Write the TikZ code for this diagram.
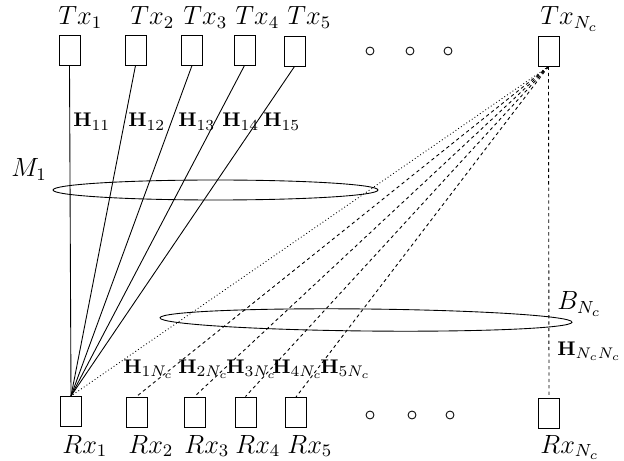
\documentclass[tikz,border=0pt]{standalone}
\usepackage{amsmath}
\begin{document}
\begin{tikzpicture}[x=0.455pt,y=-0.455pt,
  antenna/.style={draw,rectangle,inner sep=0pt,minimum width=9.6pt,minimum height=13.7pt},
  lbl/.style={inner sep=0pt,anchor=base west,font=\fontsize{12}{14}\selectfont},
  hlbl/.style={inner sep=0pt,anchor=base west,font=\fontsize{9.3}{11}\selectfont},
  dotc/.style={draw,circle,inner sep=0pt,minimum size=3.6pt},
  dsh/.style={dash pattern=on 1.5pt off 1.4pt},
  dtt/.style={dash pattern=on 0.4pt off 1.1pt}]
\useasboundingbox (0,0) rectangle (624,461);
% transmit antennas
\node[antenna] (t1) at (69.5,50) {};
\node[antenna] (t2) at (135.5,50) {};
\node[antenna] (t3) at (192,50) {};
\node[antenna] (t4) at (244.5,50) {};
\node[antenna] (t5) at (294.5,51) {};
\node[antenna] (tn) at (548.5,51) {};
% receive antennas
\node[antenna] (r1) at (71,411.5) {};
\node[antenna] (r2) at (136.5,412) {};
\node[antenna] (r3) at (194.5,412) {};
\node[antenna] (r4) at (245.5,412) {};
\node[antenna] (r5) at (296,412.5) {};
\node[antenna] (rn) at (549,413) {};
% dots
\node[dotc] (d1) at (370,51) {};
\node[dotc] (d2) at (410,51) {};
\node[dotc] (d3) at (448,51) {};
\node[dotc] (e1) at (370,415) {};
\node[dotc] (e2) at (412,415) {};
\node[dotc] (e3) at (450,415) {};
% labels
\node[lbl] (lt1) at (58,25) {$Tx_1$};
\node[lbl] (lt2) at (130,25) {$Tx_2$};
\node[lbl] (lt3) at (183,25) {$Tx_3$};
\node[lbl] (lt4) at (235,25) {$Tx_4$};
\node[lbl] (lt5) at (287,25) {$Tx_5$};
\node[lbl] (ltn) at (540,25) {$Tx_{N_c}$};
\node[lbl] (lr1) at (62,453) {$Rx_1$};
\node[lbl] (lr2) at (128,453) {$Rx_2$};
\node[lbl] (lr3) at (184,453) {$Rx_3$};
\node[lbl] (lr4) at (235,453) {$Rx_4$};
\node[lbl] (lr5) at (287,453) {$Rx_5$};
\node[lbl] (lrn) at (540,453) {$Rx_{N_c}$};
\node[lbl] (lm) at (11,177) {$M_1$};
\node[lbl] (lb) at (557,310) {$B_{N_c}$};
\node[hlbl] (h11) at (73,127) {$\mathbf{H}_{11}$};
\node[hlbl] (h12) at (128,127) {$\mathbf{H}_{12}$};
\node[hlbl] (h13) at (178,127) {$\mathbf{H}_{13}$};
\node[hlbl] (h14) at (222,127) {$\mathbf{H}_{14}$};
\node[hlbl] (h15) at (263,127) {$\mathbf{H}_{15}$};
\node[hlbl] (h1n) at (123,373) {$\mathbf{H}_{1N_c}$};
\node[hlbl] (h2n) at (178,373) {$\mathbf{H}_{2N_c}$};
\node[hlbl] (h3n) at (226,373) {$\mathbf{H}_{3N_c}$};
\node[hlbl] (h4n) at (272,373) {$\mathbf{H}_{4N_c}$};
\node[hlbl] (h5n) at (320,373) {$\mathbf{H}_{5N_c}$};
\node[hlbl] (hnn) at (557,355) {$\mathbf{H}_{N_cN_c}$};
% links to Rx1
\foreach \t in {t1,t2,t3,t4,t5}
  \draw (\t.south) -- (r1.north);
% links from Txn
\draw[dtt] (tn.south) -- (r1.north);
\foreach \r in {r2,r3,r4,r5,rn}
  \draw[dsh] (tn.south) -- (\r.north);
% ellipses
\draw (215.5,190) ellipse [x radius=162.5, y radius=10];
\draw[rotate around={-0.6:(366,320)}] (366,320) ellipse [x radius=206, y radius=11];
\end{tikzpicture}
\end{document}
